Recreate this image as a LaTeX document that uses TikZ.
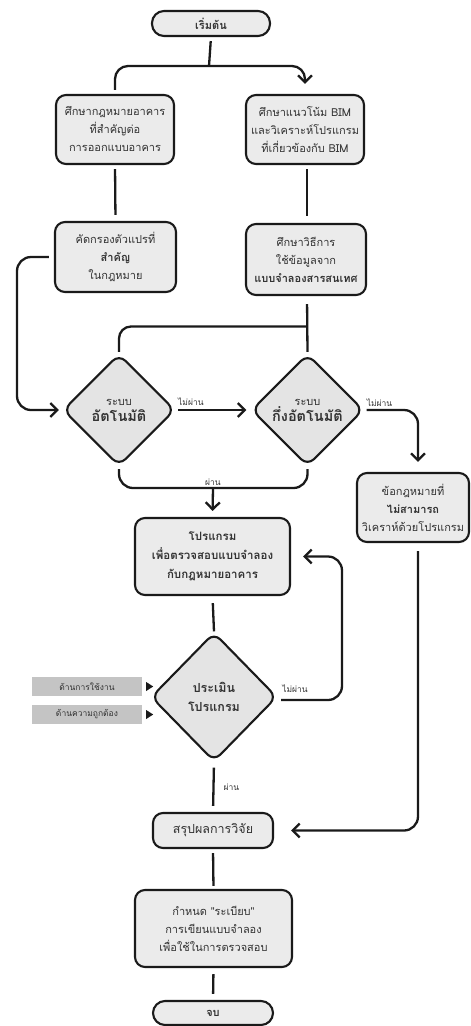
\documentclass[tikz,border=0pt]{standalone}
\usepackage{fontspec}
\newfontfamily\thai[Script=Thai]{Loma}
\usetikzlibrary{arrows.meta,shapes.geometric,calc}
\definecolor{boxfill}{HTML}{EBEBEB}
\definecolor{diafill}{HTML}{E4E4E4}
\definecolor{tagfill}{HTML}{C4C4C4}
\definecolor{ink}{HTML}{1A1A1A}
\definecolor{txt}{HTML}{333333}
\begin{document}
\begin{tikzpicture}[x=1pt,y=-1pt,
  font=\thai\fontsize{11}{18}\selectfont,
  box/.style={draw=ink, line width=2.1pt, fill=boxfill, rounded corners=10pt,
    align=center, inner sep=0pt, text=txt},
  pill/.style={box, rounded corners=12pt},
  dia/.style={diamond, draw=ink, line width=2.1pt, fill=diafill, rounded corners=9pt,
    inner sep=0pt, align=center, text=txt},
  line/.style={line width=2.3pt, draw=ink},
  arr/.style={line, -{Straight Barb[length=7pt,width=14pt]}},
  lbl/.style={font=\thai\fontsize{8.5}{9}\selectfont, text=txt, inner sep=1pt},
  tag/.style={fill=tagfill, minimum width=110pt, minimum height=19pt, inner sep=0pt,
    font=\thai\fontsize{8.5}{10}\selectfont, text=txt}
]
\useasboundingbox (0,0) rectangle (471,1026);

% nodes
\node[pill, minimum width=118pt, minimum height=25pt, font=\thai\bfseries\fontsize{11}{12}\selectfont] (start) at (211,23.5) {เริ่มต้น};

\node[box, minimum width=118pt, minimum height=69pt] (a1) at (115,129.5)
  {ศึกษากฎหมายอาคาร\\ที่สำคัญต่อ\\การออกแบบอาคาร};
\node[box, minimum width=118pt, minimum height=69pt] (b1) at (305,129.5)
  {ศึกษาแนวโน้ม BIM\\และวิเคราะห์โปรแกรม\\ที่เกี่ยวข้องกับ BIM};

\node[box, minimum width=121pt, minimum height=70pt] (a2) at (115.5,257)
  {คัดกรองตัวแปรที่\\\textbf{สำคัญ}\\ในกฎหมาย};
\node[box, minimum width=120pt, minimum height=71pt] (b2) at (306,259.5)
  {ศึกษาวิธีการ\\ใช้ข้อมูลจาก\\\textbf{แบบจำลองสารสนเทศ}};

\node[dia, minimum width=112pt, minimum height=112pt] (d1) at (119,410)
  {ระบบ\\[-2pt]{\bfseries\fontsize{14.5}{17}\selectfont อัตโนมัติ}};
\node[dia, minimum width=112pt, minimum height=112pt] (d2) at (307.5,410)
  {ระบบ\\[-2pt]{\bfseries\fontsize{14.5}{17}\selectfont กึ่งอัตโนมัติ}};

\node[box, minimum width=112pt, minimum height=69pt] (c) at (413,507.5)
  {ข้อกฎหมายที่\\\textbf{ไม่สามารถ}\\วิเคราห์ด้วยโปรแกรม};

\node[box, minimum width=155pt, minimum height=77pt, font=\thai\bfseries\fontsize{11.5}{19}\selectfont] (p) at (212.5,556.5)
  {โปรแกรม\\เพื่อตรวจสอบแบบจำลอง\\กับกฎหมายอาคาร};

\node[dia, minimum width=126pt, minimum height=129pt, font=\thai\bfseries\fontsize{12.5}{19}\selectfont] (d3) at (214,697)
  {ประเมิน\\โปรแกรม};

\node[tag] (g1) at (87,686.5) {ด้านการใช้งาน};
\node[tag] (g2) at (87,714.5) {ด้านความถูกต้อง};

\node[box, minimum width=120pt, minimum height=35pt, font=\thai\fontsize{12.5}{14}\selectfont] (s) at (213,830.5)
  {สรุปผลการวิจัย};

\node[box, minimum width=157pt, minimum height=77pt] (r) at (213.5,928.5)
  {กำหนด "ระเบียบ"\\การเขียนแบบจำลอง\\เพื่อใช้ในการตรวจสอบ};

\node[pill, minimum width=120pt, minimum height=24pt, font=\thai\bfseries\fontsize{11}{12}\selectfont] (e) at (213,1013) {จบ};

% junction points
\coordinate (j1) at (209,66);
\coordinate (j2) at (307,327);
\coordinate (j3) at (213,488);
\coordinate (lx) at (17,330);
\coordinate (rx) at (342,630);

% pointers from the evaluation criteria
\fill[ink] ([xshift=4pt,yshift=4.5pt]g1.east) -- ++(7,4.5) -- ++(-7,4.5) -- cycle;
\fill[ink] ([xshift=4pt,yshift=4.5pt]g2.east) -- ++(7,4.5) -- ++(-7,4.5) -- cycle;

% connectors
\draw[line, shorten <=4pt] (start.south) -- (j1);
\draw[arr, rounded corners=13pt, shorten <=4pt, shorten >=10pt] (a1.north) |- (j1) -| (b1.north);

\draw[line, shorten <=4pt, shorten >=6pt] (a1.south) -- (a2.north);
\draw[line, shorten <=4pt, shorten >=7pt] ([xshift=2pt]b1.south) -- ([xshift=1pt]b2.north);

\draw[arr, rounded corners=14pt, shorten <=5pt, shorten >=3pt] (a2.west) -| (lx) |- (d1.west);

\draw[line, shorten <=8pt, shorten >=1pt] ([xshift=1pt]b2.south) -- (d2.north);
\draw[line, rounded corners=12pt, shorten >=1pt] ([yshift=0.5pt]j2) -| (d1.north);

\draw[arr, shorten <=2pt, shorten >=4pt] (d1.east) -- (d2.west)
  node[lbl, pos=0, above right, yshift=2pt] {ไม่ผ่าน};
\draw[arr, rounded corners=14pt, shorten <=2pt, shorten >=10pt] (d2.east) -| ([xshift=5pt]c.north);
\node[lbl, above right, yshift=2pt] at ([xshift=1pt]d2.east) {ไม่ผ่าน};

\draw[line, rounded corners=14pt, shorten <=2pt, shorten >=2pt] (d1.south) |- (j3) -| (d2.south);
\draw[arr, shorten >=6pt] (j3) -- (p.north);
\node[lbl, above, yshift=1pt] at (j3) {ผ่าน};

\draw[line, shorten <=7pt] (p.south) -- (d3.north);
\draw[arr, rounded corners=14pt, shorten <=3pt, shorten >=12pt] ([yshift=-3pt]d3.east) -| (rx) |- (p.east);
\node[lbl, above right, yshift=3pt] at ([xshift=3pt]d3.east) {ไม่ผ่าน};

\draw[line, shorten <=5pt, shorten >=6pt] (d3.south) -- (s.north)
  node[lbl, midway, right, xshift=8pt] {ผ่าน};

\draw[arr, rounded corners=14pt, shorten <=8pt, shorten >=17pt] ([xshift=5pt]c.south) |- (s.east);

\draw[line, shorten <=4pt, shorten >=3pt] (s.south) -- (r.north);
\draw[line, shorten <=6pt, shorten >=6pt] (r.south) -- (e.north);
\end{tikzpicture}
\end{document}
